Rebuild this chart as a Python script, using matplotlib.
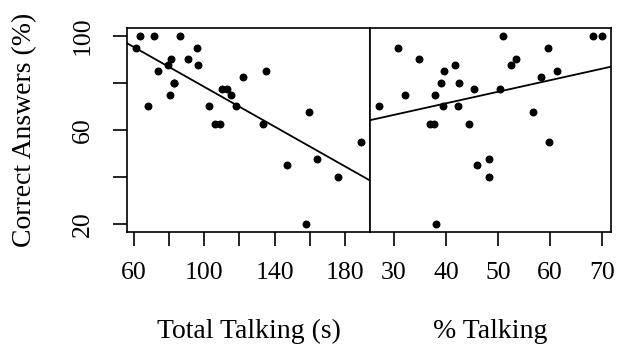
import numpy as np
import matplotlib
matplotlib.use("Agg")
import matplotlib.pyplot as plt

# left panel: total talking time (s) vs correct answers (%)
total_talking = [63.4, 71.3, 86.3, 61.5, 95.9, 81.4, 91.0, 79.3, 96.8, 73.8,
                 122.0, 82.9, 82.9, 110.3, 113.1, 80.4, 115.2, 68.2, 102.7, 118.2,
                 106.1, 109.2, 135.1, 159.8, 133.4, 188.9, 147.0, 164.3, 175.9, 157.7]
correct_total = [100, 100, 100, 95, 95, 90, 90, 87.5, 87.5, 85,
                 82.5, 80, 80, 77.5, 77.5, 75, 75, 70, 70, 70,
                 62.5, 62.5, 85, 67.5, 62.5, 55, 45, 47.5, 40, 20]

# right panel: % of time talking vs correct answers (%)
pct_talking = [30.9, 34.9, 41.8, 39.7, 39.1, 42.5, 45.4, 27.1, 32.2, 37.9,
               39.5, 42.3, 36.9, 37.7, 44.5, 45.9, 48.3, 48.2, 38.1, 51.0,
               68.3, 69.9, 59.5, 53.4, 52.5, 61.3, 58.3, 50.3, 56.7, 59.8]
correct_pct = [95, 90, 87.5, 85, 80, 80, 77.5, 70, 75, 75,
               70, 70, 62.5, 62.5, 62.5, 45, 47.5, 40, 20, 100,
               100, 100, 95, 90, 87.5, 85, 82.5, 77.5, 67.5, 55]

left_ticks = [60, 80, 100, 120, 140, 160, 180]
left_ticklabels = ['60', '', '100', '', '140', '', '180']
right_ticks = [30, 40, 50, 60, 70]
y_ticks = [20, 40, 60, 80, 100]
y_ticklabels = ['20', '', '60', '', '100']

plt.rcParams['font.family'] = ['Liberation Serif', 'DejaVu Serif']
W, H = 628, 349


def pad_lims(v):
    lo, hi = min(v), max(v)
    r = hi - lo
    return lo - 0.04 * r, hi + 0.04 * r


def panel(ax, x, y, ticks, labels):
    ax.plot(x, y, 'o', color='black', markersize=4.7)
    xl = pad_lims(x)
    yl = pad_lims(y)
    ax.set_xlim(xl)
    ax.set_ylim(yl)
    # least-squares line across the whole panel
    b, a = np.polyfit(x, y, 1)
    xs = np.array(xl)
    ax.plot(xs, a + b * xs, color='black', linewidth=1.3)
    ax.set_xticks(ticks)
    ax.set_xticklabels(labels)
    for s in ax.spines.values():
        s.set_linewidth(1.2)
    ax.tick_params(axis='x', length=10, width=1.2, pad=12, labelsize=18.5)


fig = plt.figure(figsize=(W / 100, H / 100), dpi=100)
ax1 = fig.add_axes([127.3 / W, 1 - 231.7 / H, 242.4 / W, 203.4 / H])
ax2 = fig.add_axes([369.7 / W, 1 - 231.7 / H, 241.0 / W, 203.4 / H])

panel(ax1, total_talking, correct_total, left_ticks, left_ticklabels)
panel(ax2, pct_talking, correct_pct, right_ticks, [str(t) for t in right_ticks])

ax1.set_yticks(y_ticks)
ax1.set_yticklabels(y_ticklabels, rotation=90, va='center')
ax1.tick_params(axis='y', length=10, width=1.2, pad=14, labelsize=18.5)
ax2.set_yticks([])

fig.text(25 / W, 1 - 130 / H, 'Correct Answers (%)', rotation=90,
         ha='center', va='center', fontsize=20)
fig.text(248.5 / W, 1 - 331 / H, 'Total Talking (s)', ha='center',
         va='center', fontsize=20)
fig.text(490 / W, 1 - 331 / H, '% Talking', ha='center', va='center',
         fontsize=20)

fig.savefig('out.png', dpi=100)
